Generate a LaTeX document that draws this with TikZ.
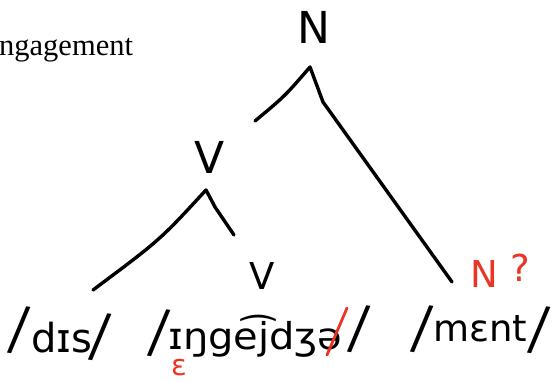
\documentclass[tikz,border=0pt]{standalone}
\usepackage{fontspec}
\setmainfont{Liberation Serif}
\newfontfamily\hand{DejaVu Sans}
\IfFontExistsTF{Fira Sans Light}{\newfontfamily\slfont{Fira Sans Light}}{\newfontfamily\slfont{DejaVu Sans}}
\definecolor{pen}{RGB}{234,52,36}
\begin{document}
\begin{tikzpicture}[x=1pt,y=-1pt,
  stroke/.style={line width=3.4pt,line cap=round,line join=round},
  cat/.style={inner sep=0,font=\hand\fontsize{44}{44}\selectfont},
  smallcat/.style={inner sep=0,font=\hand\fontsize{37}{37}\selectfont},
  word/.style={inner sep=0,anchor=base west},
  slashmark/.style={inner sep=0,font=\slfont\fontsize{52}{52}\selectfont},
  redmark/.style={text=pen,inner sep=0}]
\useasboundingbox (0,0) rectangle (556,382);
\fill[white] (0,0) rectangle (556,382);

\node[inner sep=0,anchor=base west,font=\fontsize{30.5}{30}\selectfont] (eng) at (-1,56) {ngagement};

% categories
\node[cat] (N) at (314,27) {N};
\node[cat] (V1) at (210,157) {V};
\node[smallcat] (V2) at (262,276) {V};
\node[smallcat,redmark] (Nq) at (484,274) {N};
\node[smallcat,redmark] (q) at (520,268) {?};

% branch points
\coordinate (nTop) at (310,67);
\coordinate (nL) at (255,121);
\coordinate (nBend) at (323,102);
\coordinate (nR) at (452,282);
\coordinate (vTop) at (206,190);
\coordinate (vL) at (93,290);
\coordinate (vBend) at (215,207);
\coordinate (vR) at (234,235);

\draw[stroke] (nL) .. controls (285,96) .. (nTop) -- (nBend) -- (nR);
\draw[stroke] (vL) .. controls (160,240) .. (vTop) -- (vBend) -- (vR);

% slashes
\node[slashmark] (s1a) at (19.5,330) {\scalebox{1.6}[1]{/}};
\node[slashmark] (s1b) at (100,337) {\scalebox{1.6}[1]{/}};
\node[slashmark] (s2a) at (159.5,333) {\scalebox{1.6}[1]{/}};
\node[slashmark] (s2b) at (359.5,329) {\scalebox{1.6}[1]{/}};
\node[slashmark] (s3a) at (422.5,329) {\scalebox{1.6}[1]{/}};
\node[slashmark] (s3b) at (539.5,330) {\scalebox{1.6}[1]{/}};

% words
\node[word,font=\hand\fontsize{40}{40}\selectfont] (w1) at (31,352) {dɪs};
\node[word,font=\hand\fontsize{37}{37}\selectfont] (w2) at (168,349) {\scalebox{1.08}[1]{ɪŋge͡jdʒə}};
\node[word,font=\hand\fontsize{37}{37}\selectfont] (w3) at (433,341) {mɛnt};

% red corrections
\coordinate (r1) at (327,355);
\coordinate (r2) at (347,308);
\draw[stroke,pen,line width=2.8pt] (r1) -- (r2);
\node[redmark,font=\hand\fontsize{29}{29}\selectfont] (eps) at (179,368) {ɛ};
\end{tikzpicture}
\end{document}
